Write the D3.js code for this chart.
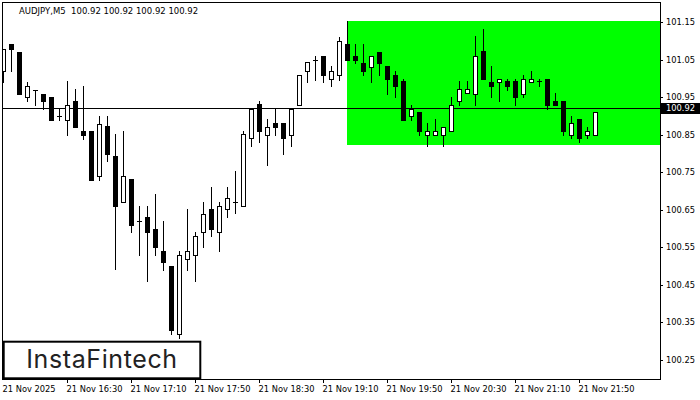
<!DOCTYPE html>
<meta charset="utf-8">
<script src="https://d3js.org/d3.v7.min.js"></script>
<style>
  body { margin: 0; background: #fff; }
  text { font-family: "DejaVu Sans", sans-serif; }
</style>
<body>
<script>
// AUDJPY M5 candles (index 0 = 15:50)
const opens = [101.020,101.091,101.071,100.951,100.970,100.959,100.951,100.900,100.889,100.941,
  100.861,100.861,100.739,100.872,100.792,100.671,100.731,100.621,100.631,100.600,
  100.541,100.501,100.319,100.519,100.529,100.591,100.651,100.591,100.651,100.671,
  100.661,100.842,100.931,100.850,100.880,100.880,100.850,100.929,101.020,101.049,
  101.061,100.999,101.010,101.091,101.061,101.042,101.031,101.071,101.032,101.010,
  100.992,100.899,100.911,100.850,100.850,100.850,100.860,100.940,100.960,100.958,
  101.072,100.991,100.991,100.992,100.992,100.959,100.991,100.992,100.999,100.940,
  100.940,100.850,100.891,100.850,100.850];
const highs = [101.079,101.091,101.071,100.991,100.970,100.959,100.951,100.918,100.992,100.971,
  100.981,100.861,100.901,100.901,100.851,100.861,100.731,100.661,100.661,100.691,
  100.621,100.501,100.541,100.651,100.591,100.671,100.711,100.671,100.710,100.753,
  100.861,100.919,100.941,100.891,100.919,100.880,100.919,101.010,101.043,101.061,
  101.061,101.032,101.111,101.152,101.091,101.091,101.061,101.071,101.032,101.021,
  100.999,100.930,100.911,100.880,100.891,100.871,100.951,100.992,100.992,101.112,
  101.131,101.032,100.999,100.999,100.999,101.010,101.021,100.999,100.999,100.960,
  100.940,100.901,100.891,100.871,100.911];
const lows = [100.990,101.020,100.958,100.939,100.928,100.919,100.889,100.889,100.848,100.870,
  100.839,100.729,100.729,100.779,100.491,100.671,100.591,100.529,100.459,100.529,
  100.489,100.319,100.307,100.489,100.459,100.550,100.579,100.539,100.631,100.642,
  100.661,100.819,100.830,100.769,100.849,100.798,100.819,100.929,100.990,100.997,
  100.990,100.979,100.997,101.049,101.042,101.010,100.990,101.010,100.958,100.950,
  100.889,100.889,100.850,100.819,100.850,100.819,100.860,100.930,100.960,100.929,
  100.998,100.950,100.939,100.970,100.929,100.951,100.991,100.979,100.919,100.929,
  100.849,100.841,100.830,100.841,100.850];
const closes = [101.079,101.079,100.958,100.980,100.970,100.939,100.889,100.900,100.929,100.870,
  100.848,100.729,100.879,100.798,100.659,100.741,100.609,100.621,100.590,100.550,
  100.511,100.329,100.529,100.541,100.581,100.640,100.599,100.661,100.682,100.671,
  100.851,100.919,100.859,100.871,100.870,100.841,100.919,101.010,101.043,101.049,
  101.009,101.020,101.100,101.049,101.049,101.020,101.061,101.042,100.999,100.979,
  100.889,100.919,100.860,100.860,100.860,100.871,100.930,100.971,100.971,101.060,
  100.998,100.979,100.999,100.979,100.950,100.999,100.999,100.992,100.929,100.929,
  100.859,100.880,100.841,100.860,100.911];

// bottom axis labels: bar index -> text
const timeTickIdx = [8, 16, 24, 32, 40, 48, 56, 64, 72];
const timeTickLabels = ["21 Nov 16:30","21 Nov 17:10","21 Nov 17:50","21 Nov 18:30",
  "21 Nov 19:10","21 Nov 19:50","21 Nov 20:30","21 Nov 21:10","21 Nov 21:50"];
const firstLabel = "21 Nov 2025";
const priceTicks = [101.15, 101.05, 100.95, 100.85, 100.75, 100.65, 100.55, 100.45, 100.35, 100.25];

const lastPrice = 100.92;
const header = "AUDJPY,M5  100.92 100.92 100.92 100.92";
// pattern zone (rectangle) : starts at bar 43, from 101.152 down to 100.822
const zoneStart = 43, zoneTop = 101.152, zoneBottom = 100.822;

const W = 700, H = 400;
const plot = {left: 2, top: 2, right: 660, bottom: 379};

const svg = d3.select("body").append("svg")
  .attr("width", W).attr("height", H);

const x = d3.scaleLinear().domain([0, 1]).range([3.5, 11.5]);
const y = d3.scaleLinear().domain([100.25, 101.15]).range([360.3, 22.7]);
const py = v => Math.floor(y(v)) + 0.5;

const bars = opens.map((o, i) => ({i, o, h: highs[i], l: lows[i], c: closes[i]}));

// clip for the plot area
svg.append("clipPath").attr("id", "plotclip").append("rect")
  .attr("x", plot.left).attr("y", plot.top)
  .attr("width", plot.right - plot.left).attr("height", plot.bottom - plot.top);
const g = svg.append("g").attr("clip-path", "url(#plotclip)");

// green pattern zone
g.append("rect")
  .attr("x", Math.floor(x(zoneStart)))
  .attr("y", Math.floor(y(zoneTop)))
  .attr("width", plot.right - Math.floor(x(zoneStart)))
  .attr("height", Math.floor(y(zoneBottom)) - Math.floor(y(zoneTop)))
  .attr("fill", "#00ff00");

// current price line
g.append("line")
  .attr("x1", plot.left).attr("x2", plot.right)
  .attr("y1", py(lastPrice)).attr("y2", py(lastPrice))
  .attr("stroke", "#000").attr("stroke-width", 1);

// candles
const cg = g.selectAll("g.candle").data(bars).enter().append("g").attr("class", "candle");
cg.append("line")
  .attr("x1", d => x(d.i)).attr("x2", d => x(d.i))
  .attr("y1", d => Math.floor(y(d.h))).attr("y2", d => Math.floor(y(d.l)) + 1)
  .attr("stroke", "#000").attr("stroke-width", 1);

cg.each(function (d) {
  const s = d3.select(this);
  const top = Math.floor(y(Math.max(d.o, d.c)));
  const bot = Math.floor(y(Math.min(d.o, d.c)));
  if (bot - top < 2 && Math.abs(d.o - d.c) < 0.002) {
    s.append("line")
      .attr("x1", x(d.i) - 2.5).attr("x2", x(d.i) + 2.5)
      .attr("y1", top + 0.5).attr("y2", top + 0.5)
      .attr("stroke", "#000");
  } else if (d.c >= d.o) {
    s.append("rect")
      .attr("x", x(d.i) - 2).attr("y", top + 0.5)
      .attr("width", 4).attr("height", Math.max(1, bot - top))
      .attr("fill", "#fff").attr("stroke", "#000").attr("stroke-width", 1);
  } else {
    s.append("rect")
      .attr("x", x(d.i) - 2.5).attr("y", top)
      .attr("width", 5).attr("height", Math.max(2, bot - top + 1))
      .attr("fill", "#000");
  }
});

// frame
svg.append("rect")
  .attr("x", plot.left + 0.5).attr("y", plot.top + 0.5)
  .attr("width", plot.right - plot.left).attr("height", plot.bottom - plot.top)
  .attr("fill", "none").attr("stroke", "#000");

// right price axis
const ya = svg.append("g");
priceTicks.forEach(p => {
  ya.append("line")
    .attr("x1", plot.right).attr("x2", plot.right + 3)
    .attr("y1", py(p)).attr("y2", py(p)).attr("stroke", "#000");
  ya.append("text")
    .attr("x", plot.right + 6).attr("y", py(p)).attr("dy", "0.35em")
    .attr("font-size", "8.3px").attr("fill", "#000").text(p.toFixed(2));
});

// last price box
svg.append("rect")
  .attr("x", plot.right).attr("y", Math.floor(y(lastPrice)) - 5)
  .attr("width", 40).attr("height", 11).attr("fill", "#000");
svg.append("text")
  .attr("x", plot.right + 6).attr("y", py(lastPrice)).attr("dy", "0.35em")
  .attr("font-size", "8.3px").attr("fill", "#fff").text(lastPrice.toFixed(2));

// bottom time axis
const xa = svg.append("g");
timeTickIdx.forEach((idx, j) => {
  xa.append("line")
    .attr("x1", x(idx)).attr("x2", x(idx))
    .attr("y1", plot.bottom).attr("y2", plot.bottom + 4).attr("stroke", "#000");
  xa.append("text")
    .attr("x", x(idx) - 1).attr("y", 392)
    .attr("font-size", "8.3px").attr("fill", "#000").text(timeTickLabels[j]);
});
xa.append("text")
  .attr("x", 2.5).attr("y", 392)
  .attr("font-size", "8.3px").attr("fill", "#000").text(firstLabel);

// header
svg.append("text")
  .attr("x", 19).attr("y", 13.5)
  .attr("font-size", "8.5px").attr("fill", "#000")
  .style("white-space", "pre").text(header);

// logo box
svg.append("rect")
  .attr("x", 3.7).attr("y", 341.7).attr("width", 196.6).attr("height", 36.6)
  .attr("fill", "#fff").attr("stroke", "#000").attr("stroke-width", 2);
svg.append("text")
  .attr("x", 102).attr("y", 368.3).attr("text-anchor", "middle")
  .style("font-family", "Inter, sans-serif").attr("font-weight", 400)
  .attr("font-size", "25px").attr("letter-spacing", "0.6px")
  .attr("fill", "#222").text("InstaFintech");
</script>
</body>
